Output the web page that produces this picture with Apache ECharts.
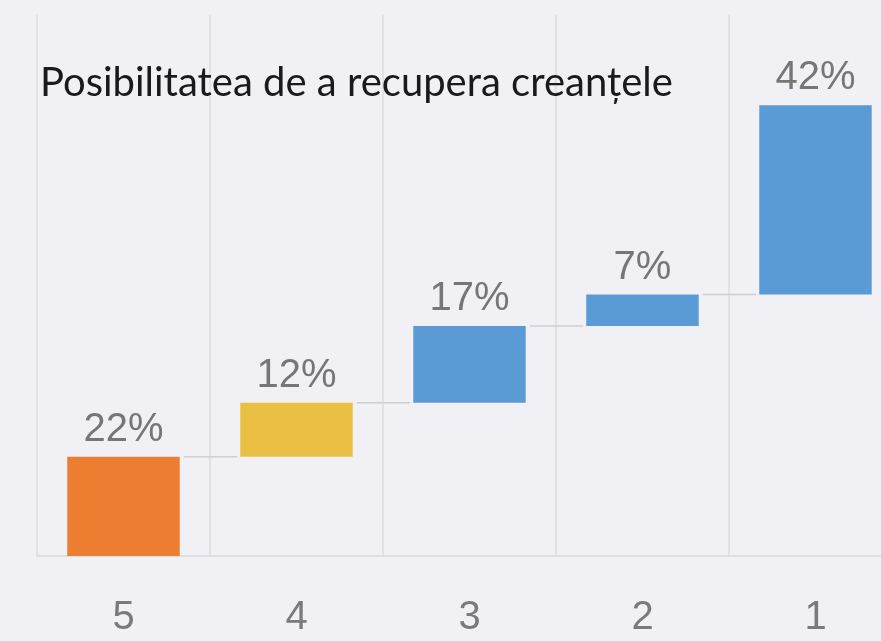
<!DOCTYPE html>
<html>
<head>
<meta charset="utf-8">
<style>
  html, body { margin: 0; padding: 0; background: #f1f0f5; overflow: hidden; width: 881px; height: 641px; }
  #chart { width: 902px; height: 641px; }
</style>
<script src="https://cdn.jsdelivr.net/npm/echarts@6/dist/echarts.min.js"></script>
</head>
<body>
<div id="chart"></div>
<script>
const titleText = 'Posibilitatea de a recupera creanțele';
const categories = ['5', '4', '3', '2', '1'];
const values = [22, 12, 17, 7, 42];
const barColors = ['#ed7d31', '#eac044', '#5b9bd5', '#5b9bd5', '#5b9bd5'];

// cumulative bases for the waterfall
const bases = [];
let run = 0;
for (let i = 0; i < values.length; i++) { bases.push(run); run += values[i]; }
const levels = values.map((v, i) => bases[i] + v);

const BAR_RATIO = 0.65;
const chart = echarts.init(document.getElementById('chart'), null, { renderer: 'canvas' });
chart.setOption({
  backgroundColor: '#f1f0f5',
  animation: false,
  title: {
    text: titleText,
    left: 35, top: 58,
    textStyle: { fontFamily: 'Lato', fontSize: 40, fontWeight: 'normal', color: '#1a1a1a' }
  },
  grid: { left: 37, right: 0, top: 15, bottom: 85 },
  xAxis: {
    type: 'category',
    data: categories,
    axisLine: { show: true, lineStyle: { color: '#d9d9d9', width: 1.5 } },
    axisTick: { show: false },
    splitLine: { show: true, lineStyle: { color: '#dcdcdc', width: 1.5 } },
    axisLabel: { margin: 42, fontFamily: 'Liberation Sans', fontSize: 40, color: '#7a7a7a' }
  },
  yAxis: {
    type: 'value', min: 0, max: 120, show: false,
    splitLine: { show: false }
  },
  series: [
    {
      type: 'bar', stack: 'w', barWidth: (BAR_RATIO * 100) + '%',
      itemStyle: { color: 'transparent' },
      silent: true,
      data: bases
    },
    {
      type: 'bar', stack: 'w', barWidth: (BAR_RATIO * 100) + '%',
      data: values.map((v, i) => ({ value: v, itemStyle: { color: barColors[i] } })),
      label: {
        show: true, position: 'top', distance: 7,
        formatter: p => p.value + '%',
        fontFamily: 'Liberation Sans', fontSize: 40, color: '#767676'
      }
    },
    {
      type: 'custom',
      data: levels.slice(0, levels.length - 1).map((l, i) => [i, l]),
      renderItem: function (params, api) {
        const i = api.value(0), lvl = api.value(1);
        const p1 = api.coord([i, lvl]);
        const p2 = api.coord([i + 1, lvl]);
        const bw = api.size([1, 0])[0] * BAR_RATIO;
        return {
          type: 'line',
          shape: { x1: p1[0] + bw / 2 + 4, y1: p1[1], x2: p2[0] - bw / 2 - 3, y2: p2[1] },
          style: { stroke: '#cfcfcf', lineWidth: 1.5 }
        };
      }
    }
  ]
});
</script>
</body>
</html>
